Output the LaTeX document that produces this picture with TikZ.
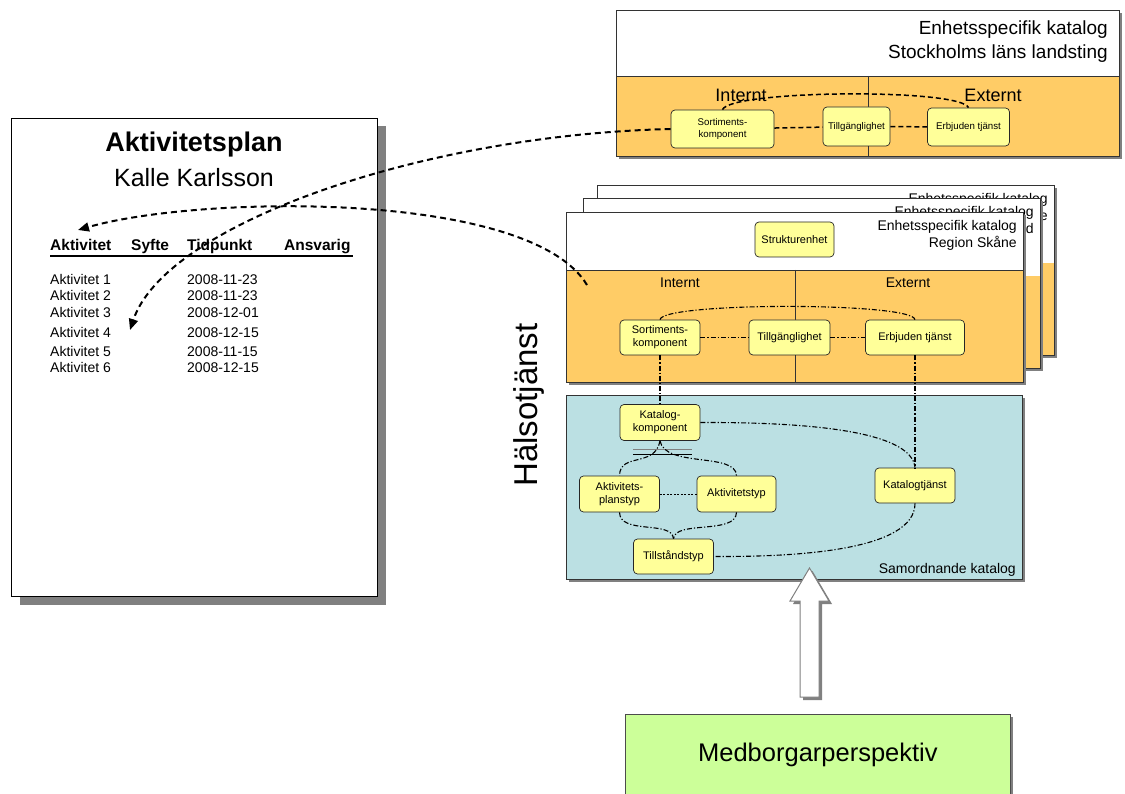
\documentclass[tikz,border=0pt]{standalone}
\usepackage{fontspec}
\setmainfont{Liberation Sans}
\usetikzlibrary{arrows.meta,calc,shadows}

\definecolor{catorange}{HTML}{FFCC66}
\definecolor{catblue}{HTML}{BBE0E3}
\definecolor{unityellow}{HTML}{FFFF99}
\definecolor{persgreen}{HTML}{CCFF99}
\definecolor{shadowgray}{HTML}{808080}

\newcommand{\pxfont}[2]{\fontsize{#1}{#2}\selectfont}

\tikzset{
	castshadow/.style={drop shadow={shadow xshift=3pt,shadow yshift=-3pt,fill=shadowgray,opacity=1}},
	boxline/.style={draw=black!80, line width=0.8pt},
	planpage/.style={draw=black, line width=1pt, fill=white, drop shadow={shadow xshift=8pt,shadow yshift=-8pt,fill=shadowgray,opacity=1}},
	unit/.style={draw=black!85, line width=0.7pt, fill=unityellow, rounded corners=4pt, align=center, inner sep=1pt, font=\pxfont{11}{12.7}},
	sllunit/.style={unit, font=\pxfont{9.7}{12.5}},
	relink/.style={line width=1.1pt, dash pattern=on 5pt off 2pt on 1.2pt off 2pt},
	sllink/.style={line width=1.5pt, dash pattern=on 5pt off 3pt},
	softlink/.style={line width=0.8pt, dash pattern=on 2pt off 1.5pt},
	docarrow/.style={line width=2pt, dash pattern=on 6pt off 4pt, -{Triangle[length=11pt,width=9pt]}},
	colhead/.style={font=\pxfont{15.5}{18}\bfseries, inner sep=0pt},
	rowtext/.style={font=\pxfont{14}{17}, inner sep=0pt},
	layertitle/.style={font=\pxfont{14}{17}, align=right, inner sep=0pt, anchor=north east},
	persp/.style={draw=black!70, line width=0.8pt, fill=persgreen, castshadow, font=\pxfont{25.5}{30}},
}

\begin{document}
\begin{tikzpicture}[x=1pt,y=-1pt]
	\useasboundingbox (0,0) rectangle (1125,794);

	% aktivitetsplan
	\node[planpage, minimum width=366pt, minimum height=478pt, anchor=north west] (plan) at (11,118) {};
	\node[font=\pxfont{27}{32}\bfseries] (plantitle) at (194,145) {Aktivitetsplan};
	\node[font=\pxfont{25}{30}] (planname) at (194,178) {Kalle Karlsson};
	\foreach \x/\txt [count=\i] in {50/Aktivitet, 131/Syfte, 187/Tidpunkt, 284/Ansvarig}
		\node[colhead, anchor=base west] (head\i) at (\x,251) {\txt};
	\draw[line width=2.2pt] ($(head1.base west)+(0,5)$) -- ($(head4.base east)+(2,5)$);
	\foreach \y/\d [count=\i] in {285/2008-11-23, 301/2008-11-23, 318/2008-12-01, 338/2008-12-15, 356/2008-11-15, 373/2008-12-15} {
		\node[rowtext, anchor=base west] (akt\i) at (50,\y) {Aktivitet \i};
		\node[rowtext, anchor=base west] (dat\i) at (187,\y) {\d};
	}

	% stockholms lans landsting
	\fill[white, castshadow] (616,10) rectangle (1119,156);
	\fill[catorange] (616,76) rectangle (1119,156);
	\draw[boxline] (616,10) rectangle (1119,156);
	\draw[boxline] (616,76) -- (1119,76) (868,76) -- (868,156);
	\node[font=\pxfont{19}{24}, align=right, inner sep=0pt, anchor=north east] (slltitle) at (1108,21) {Enhetsspecifik katalog\\Stockholms läns landsting};
	\node[font=\pxfont{18}{22}] (sllint) at (741,95) {Internt};
	\node[font=\pxfont{18}{22}] (sllext) at (993,95) {Externt};
	\node[sllunit, minimum width=103pt, minimum height=38pt] (sllsort) at (722.5,129) {Sortiments-\\komponent};
	\node[sllunit, minimum width=67pt, minimum height=39pt] (slltill) at (856.5,126.5) {Tillgänglighet};
	\node[sllunit, minimum width=82pt, minimum height=38pt] (sllerb) at (968.5,127) {Erbjuden tjänst};
	\draw[sllink] (sllsort) -- (slltill);
	\draw[sllink] (slltill) -- (sllerb);
	\draw[sllink] (sllsort.north) .. controls (730,90) and (960,88) .. (sllerb.north);

	% enhetsspecifika kataloger bakom
	\foreach \dx/\dy/\region in {31/-27/Region Skåne, 17/-14/Region Halland} {
		\begin{scope}[shift={(\dx,\dy)}]
			\fill[white, castshadow] (566,212) rectangle (1023,382);
			\fill[catorange] (566,290) rectangle (1023,382);
			\draw[boxline] (566,212) rectangle (1023,382);
			\node[layertitle] at (1017,220) {Enhetsspecifik katalog\\\region};
		\end{scope}
	}

	% region skane
	\fill[white, castshadow] (566,212) rectangle (1023,382);
	\fill[catorange] (566,270) rectangle (1023,382);
	\draw[boxline] (566,212) rectangle (1023,382);
	\draw[boxline] (566,270) -- (1023,270) (795,270) -- (795,382);
	\node[layertitle] (rstitle) at (1017,220) {Enhetsspecifik katalog\\Region Skåne};
	\node[font=\pxfont{14}{17}] (rsint) at (680,283) {Internt};
	\node[font=\pxfont{14}{17}] (rsext) at (908,283) {Externt};
	\node[unit, minimum width=79pt, minimum height=35pt] (struktur) at (794.5,239.5) {Strukturenhet};
	\node[unit, minimum width=80pt, minimum height=35pt] (rssort) at (660,337.5) {Sortiments-\\komponent};
	\node[unit, minimum width=81pt, minimum height=35pt] (rstill) at (789.5,337.5) {Tillgänglighet};
	\node[unit, minimum width=99pt, minimum height=35pt] (rserb) at (915,337.5) {Erbjuden tjänst};

	% samordnande katalog
	\draw[boxline, fill=catblue, castshadow] (566,395) rectangle (1022,579);
	\node[font=\pxfont{14}{17}, anchor=base east, inner sep=0pt] (samtitle) at (1016,573) {Samordnande katalog};
	\node[unit, minimum width=80pt, minimum height=36pt] (katkomp) at (660,422.5) {Katalog-\\komponent};
	\node[unit, minimum width=80pt, minimum height=36pt] (aktplan) at (619.5,494) {Aktivitets-\\planstyp};
	\node[unit, minimum width=79pt, minimum height=36pt] (akttyp) at (736.5,494) {Aktivitetstyp};
	\node[unit, minimum width=80pt, minimum height=35pt] (kattj) at (915,485.5) {Katalogtjänst};
	\node[unit, minimum width=80pt, minimum height=35pt] (tillst) at (673.5,556.5) {Tillståndstyp};
	\draw[gray] ($(katkomp.south)+(-27,8)$) -- ($(katkomp.south)+(32,8)$);
	\draw ($(katkomp.south)+(-27,13)$) -- ($(katkomp.south)+(32,13)$);

	\draw[relink] (rssort.north) .. controls (662,302) and (913,302) .. (rserb.north);
	\draw[relink] (rssort) -- (rstill);
	\draw[relink] (rstill) -- (rserb);
	\draw[relink] (rssort.south) -- (katkomp.north);
	\draw[relink] (rserb.south) -- (kattj.north);
	\draw[relink] (katkomp.east) .. controls (830,422) and (912,435) .. (kattj.north);
	\draw[relink] (katkomp.south) .. controls (655,468) and (620,452) .. (aktplan.north);
	\draw[relink] (katkomp.south) .. controls (665,468) and (736,452) .. (akttyp.north);
	\draw[softlink] (aktplan) -- (akttyp);
	\draw[relink] (aktplan.south) .. controls (620,535) and (672,520) .. (tillst.north);
	\draw[relink] (akttyp.south) .. controls (736,535) and (675,520) .. (tillst.north);
	\draw[relink] (kattj.south) .. controls (915,550) and (800,557) .. (tillst.east);

	\node[rotate=90, font=\pxfont{33}{40}] (halso) at (529,405) {Hälsotjänst};

	% medborgarperspektiv
	\draw[draw=gray, line width=1pt, fill=white, castshadow] (800,697) -- (800,601) -- (790,601) -- (809.5,568) -- (829,601) -- (819,601) -- (819,697) -- cycle;
	\node[persp, minimum width=385pt, minimum height=82pt, anchor=north west] (medb) at (625,714) {Medborgarperspektiv};

	% pilar till aktivitetsplanen
	\coordinate (rsfree) at (587,285);
	\coordinate (tiprow) at (130,330);
	\coordinate (tiphead) at (78,230);
	\draw[docarrow] (sllsort.west) .. controls (420,135) and (165,225) .. (tiprow);
	\draw[docarrow] (rsfree) .. controls (530,190) and (200,195) .. (tiphead);
\end{tikzpicture}
\end{document}
